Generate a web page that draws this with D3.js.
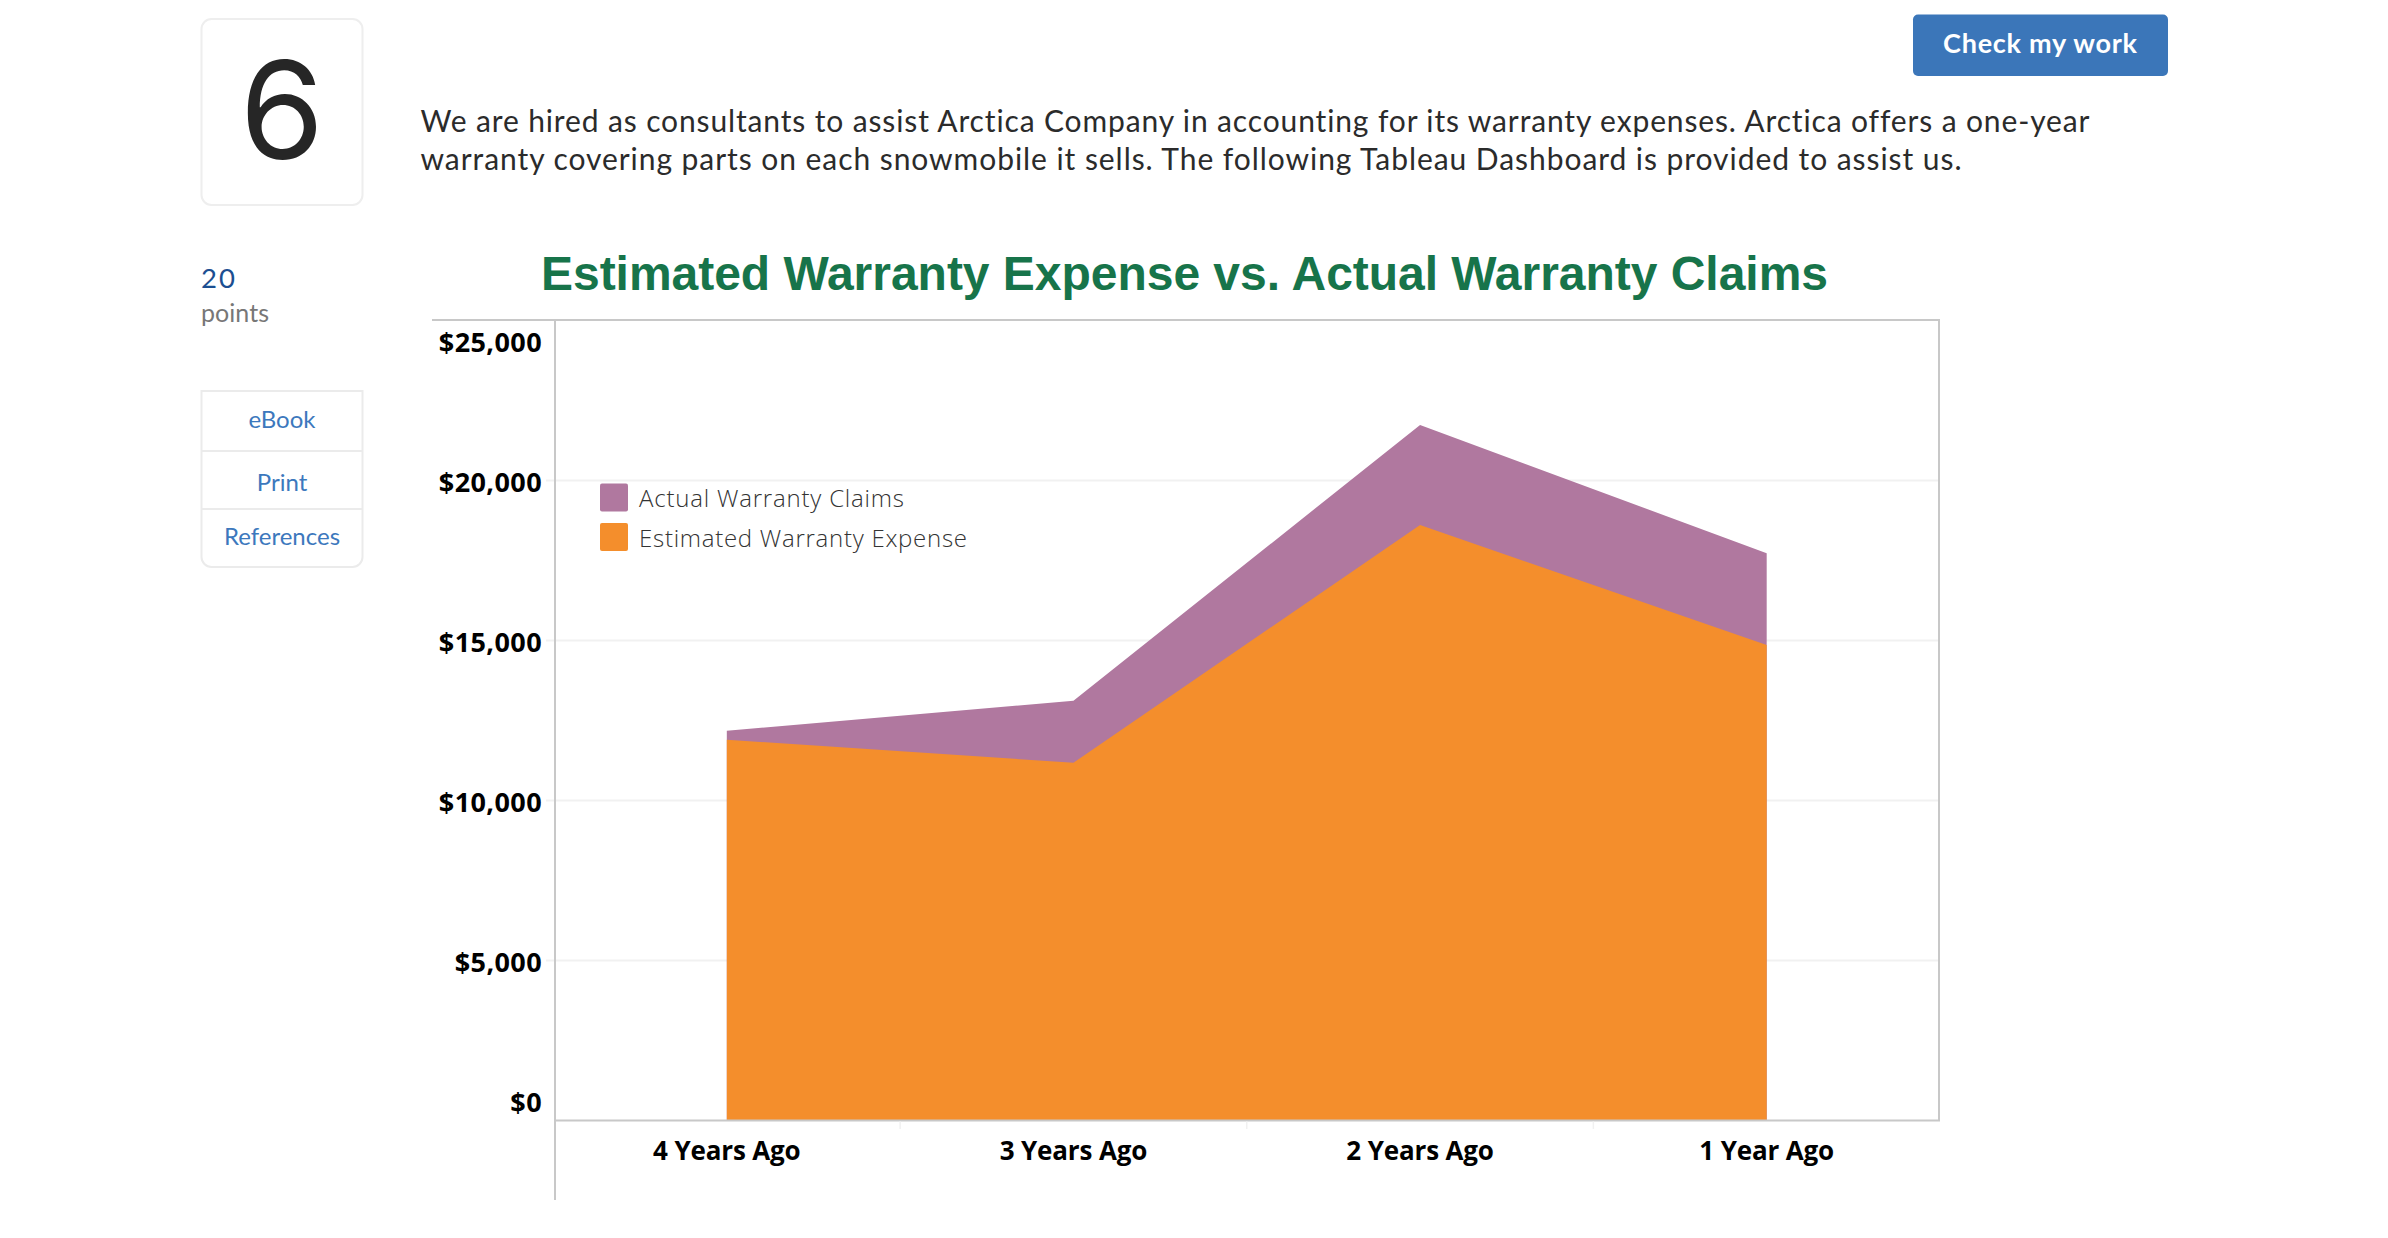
<!DOCTYPE html>
<html>
<head>
<meta charset="utf-8">
<script src="https://cdn.jsdelivr.net/npm/d3@7"></script>
<style>
html,body{margin:0;padding:0;background:#fff;overflow:hidden}
svg{display:block}
text{font-variant-ligatures:none}
</style>
</head>
<body>
<svg id="c" width="2388" height="1238"></svg>
<script>
const categories = ["4 Years Ago","3 Years Ago","2 Years Ago","1 Year Ago"];
const actualClaims = [12165,13100,21720,17710];
const estimatedExpense = [11885,11165,18595,14845];
const yTicks = [0,5000,10000,15000,20000,25000];
const legendLabels = ["Actual Warranty Claims","Estimated Warranty Expense"];
const seriesColors = ["#b0789f","#f48e2c"];
const titleText = "Estimated Warranty Expense vs. Actual Warranty Claims";
const paragraphLines = [
  "We are hired as consultants to assist Arctica Company in accounting for its warranty expenses. Arctica offers a one-year",
  "warranty covering parts on each snowmobile it sells. The following Tableau Dashboard is provided to assist us."
];
const sideLinks = ["eBook","Print","References"];

const svg = d3.select("#c");
const bodyFont = "Lato, 'Open Sans', sans-serif";
const labelFont = "'Open Sans', 'Noto Sans', sans-serif";

function txt(s,x,y,size,color,opts={}){
  const t = svg.append("text").attr("x",x).attr("y",y).text(s)
    .attr("font-family",opts.font||bodyFont).attr("font-size",size)
    .attr("fill",color).attr("font-weight",opts.weight||400)
    .attr("text-anchor",opts.anchor||"start");
  if(opts.len){t.attr("textLength",opts.len).attr("lengthAdjust","spacing");}
  return t;
}

/* ---------- page furniture ---------- */
svg.append("rect").attr("x",201.5).attr("y",19).attr("width",161).attr("height",186).attr("rx",10)
  .attr("fill","#fff").attr("stroke","#eeeeee").attr("stroke-width",2);
txt("6",282,159,136,"#262626",{anchor:"middle",font:"Inter, Lato, sans-serif"});

paragraphLines.forEach((l,i)=>txt(l,420.5,[131.7,169.5][i],30,"#2b2b2b",{len:[1669,1541][i]}));

txt("20",201,288,27.5,"#1c4f91",{len:34});
txt("points",201,322,25,"#777777",{len:68});

svg.append("path").attr("d","M201.5 391H362.5V557a10 10 0 0 1 -10 10H211.5a10 10 0 0 1 -10 -10Z")
  .attr("fill","#fff").attr("stroke","#ebebeb").attr("stroke-width",2);
[451,509].forEach(y=>svg.append("line").attr("x1",201.5).attr("x2",362.5).attr("y1",y).attr("y2",y)
  .attr("stroke","#ebebeb").attr("stroke-width",2));
sideLinks.forEach((s,i)=>txt(s,282,[427.5,491,544.5][i],24,"#3c78bd",{anchor:"middle"}));

svg.append("rect").attr("x",1913).attr("y",14.5).attr("width",255).attr("height",61.5).attr("rx",5).attr("fill","#3b76b9");
txt("Check my work",1943,52.5,27,"#ffffff",{weight:700,len:194});

txt(titleText,541,289.5,48,"#17744a",{font:"'Liberation Sans', Arial, sans-serif",weight:700,len:1287});

/* ---------- chart ---------- */
const x = d3.scaleBand().domain(categories).range([553.5,1940]);
const y = d3.scaleLinear().domain([0,25000]).range([1120,320]);
const cx = c => x(c)+x.bandwidth()/2;
const rows = categories.map((c,i)=>({c,actual:actualClaims[i],est:estimatedExpense[i]}));
const axisColor = "#c8c8c8", gridColor = "#f1f1f1";

// gridlines + y labels
const yAxis = d3.axisLeft(y).tickValues(yTicks)
  .tickFormat(d=>"$"+d3.format(",")(d))
  .tickSize(-(1939-546)).tickPadding(4);
const gy = svg.append("g").attr("transform","translate(546,0)").call(yAxis);
gy.select(".domain").remove();
gy.selectAll(".tick line").attr("stroke",gridColor).attr("stroke-width",2)
  .attr("display",d=>(d===0||d===25000)?"none":null);
gy.selectAll(".tick text")
  .attr("font-family",labelFont).attr("font-size",27).attr("font-weight",700)
  .attr("fill","#000").attr("letter-spacing",0.4)
  .attr("dy",null)
  .attr("y",d=>d===25000?31.5:(d===0?-8.5:11.5));

// areas
const area = key => d3.area().x(d=>cx(d.c)).y0(y(0)).y1(d=>y(d[key]));
svg.append("path").datum(rows).attr("d",area("actual")).attr("fill",seriesColors[0]);
svg.append("path").datum(rows).attr("d",area("est")).attr("fill",seriesColors[1]);

// frame
const frame = (x1,y1,x2,y2)=>svg.append("line").attr("x1",x1).attr("y1",y1).attr("x2",x2).attr("y2",y2)
  .attr("stroke",axisColor).attr("stroke-width",2);
frame(432,y(25000),1940,y(25000));
frame(1939,y(25000),1939,y(0)+1);
frame(555,y(25000),555,1200);
frame(555,y(0)+0.5,1940,y(0)+0.5);

// x axis
const xAxis = d3.axisBottom(x).tickSize(0).tickPadding(0);
const gx = svg.append("g").attr("transform",`translate(0,${y(0)})`).call(xAxis);
gx.select(".domain").remove();
gx.selectAll(".tick line").remove();
gx.selectAll(".tick text")
  .attr("font-family",labelFont).attr("font-size",26).attr("font-weight",700).attr("fill","#000")
  .attr("dy",null).attr("y",40).attr("letter-spacing",-0.15);
// category separators
svg.append("g").selectAll("line").data(categories.slice(1)).join("line")
  .attr("x1",d=>x(d)).attr("x2",d=>x(d)).attr("y1",y(0)+1.5).attr("y2",y(0)+9)
  .attr("stroke",gridColor).attr("stroke-width",1.5);

// legend
const lg = svg.append("g").selectAll("g").data(legendLabels).join("g");
lg.append("rect").attr("x",600).attr("y",(d,i)=>[483.5,523][i]).attr("width",28).attr("height",28).attr("rx",2)
  .attr("fill",(d,i)=>seriesColors[i]);
lg.append("text").attr("x",639).attr("y",(d,i)=>[507,547][i]).text(d=>d)
  .attr("font-family",labelFont).attr("font-size",24).attr("font-weight",300).attr("fill","#333333")
  .attr("textLength",(d,i)=>[265,328][i]).attr("lengthAdjust","spacing");
</script>
</body>
</html>
